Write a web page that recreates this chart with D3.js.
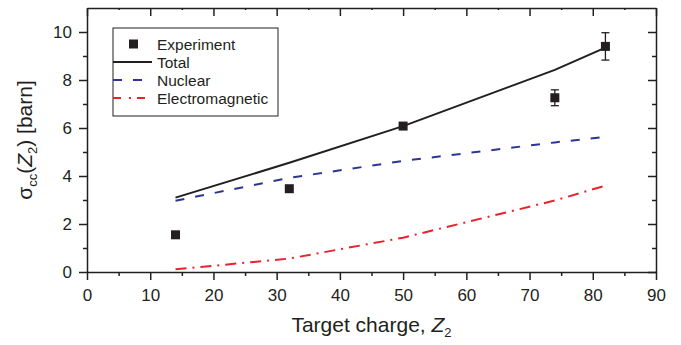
<!DOCTYPE html>
<html>
<head>
<meta charset="utf-8">
<script src="https://cdn.jsdelivr.net/npm/d3@7"></script>
<style>
  body { margin: 0; background: #fff; }
  svg { display: block; font-family: "Liberation Sans", Arial, sans-serif; }
</style>
</head>
<body>
<svg id="chart" width="681" height="345"></svg>
<script>
const width = 681;
const height = 345;
const ink = "#231f20";

// target charges Z2 and cross sections [barn]
const charges = [14, 32, 50, 74, 82];
const expValues = [1.55, 3.47, 6.08, 7.26, 9.4];
const expErrors = [0, 0, 0, 0.33, 0.57];
const totalValues = [3.1, 4.55, 6.08, 8.42, 9.35];
const nuclearValues = [2.97, 3.92, 4.63, 5.4, 5.63];
const emValues = [0.11, 0.56, 1.43, 2.98, 3.6];

const xTicks = [0, 10, 20, 30, 40, 50, 60, 70, 80, 90];
const xMinor = [5, 15, 25, 35, 45, 55, 65, 75, 85];
const yTicks = [0, 2, 4, 6, 8, 10];
const yMinor = [1, 3, 5, 7, 9];

const legendLabels = ["Experiment", "Total", "Nuclear", "Electromagnetic"];

const svg = d3.select("#chart");

const x = d3.scaleLinear().domain([0, 90]).range([87, 656]);
const y = d3.scaleLinear().domain([0, 11]).range([272, 8]);

function styleAxis(g) {
    g.selectAll("path, line").attr("stroke", ink).attr("stroke-width", 1.5);
    g.selectAll("text").attr("fill", ink).style("font-size", "17px");
}

// minor ticks first so the domain lines sit on top
svg.append("g").attr("transform", `translate(0,${y(0)})`)
    .call(d3.axisBottom(x).tickValues(xMinor).tickSize(4).tickFormat(""))
    .call(styleAxis).call(g => g.select(".domain").remove());
svg.append("g").attr("transform", `translate(${x(0)},0)`)
    .call(d3.axisLeft(y).tickValues(yMinor).tickSize(4).tickFormat(""))
    .call(styleAxis).call(g => g.select(".domain").remove());
svg.append("g").attr("transform", `translate(0,${y(11)})`)
    .call(d3.axisTop(x).tickValues(xMinor).tickSize(-2).tickFormat(""))
    .call(styleAxis).call(g => g.select(".domain").remove());
svg.append("g").attr("transform", `translate(${x(90)},0)`)
    .call(d3.axisRight(y).tickValues(yMinor).tickSize(-4).tickFormat(""))
    .call(styleAxis).call(g => g.select(".domain").remove());

// major axes
svg.append("g").attr("transform", `translate(0,${y(0)})`)
    .call(d3.axisBottom(x).tickValues(xTicks).tickSizeInner(8).tickSizeOuter(0).tickPadding(9))
    .call(styleAxis);
svg.append("g").attr("transform", `translate(${x(0)},0)`)
    .call(d3.axisLeft(y).tickValues(yTicks).tickSizeInner(8).tickSizeOuter(0).tickPadding(7))
    .call(styleAxis);
svg.append("g").attr("transform", `translate(0,${y(11)})`)
    .call(d3.axisTop(x).tickValues(xTicks).tickSizeInner(-8).tickSizeOuter(0).tickFormat(""))
    .call(styleAxis);
svg.append("g").attr("transform", `translate(${x(90)},0)`)
    .call(d3.axisRight(y).tickValues(yTicks).tickSizeInner(-8).tickSizeOuter(0).tickFormat(""))
    .call(styleAxis);

// curves
const line = d3.line()
    .x((d, i) => x(charges[i]))
    .y(d => y(d));

svg.append("path").datum(emValues)
    .attr("d", line).attr("fill", "none")
    .attr("stroke", "#e8222b").attr("stroke-width", 2)
    .attr("stroke-dasharray", "11,6,2,6");

svg.append("path").datum(nuclearValues)
    .attr("d", line).attr("fill", "none")
    .attr("stroke", "#2b3596").attr("stroke-width", 2)
    .attr("stroke-dasharray", "9,11");

svg.append("path").datum(totalValues)
    .attr("d", line).attr("fill", "none")
    .attr("stroke", ink).attr("stroke-width", 2);

// experiment points with error bars
const pts = charges.map((z, i) => ({ z: z, v: expValues[i], e: expErrors[i] }));

const bars = svg.append("g").selectAll("g")
    .data(pts.filter(d => d.e > 0))
    .enter().append("g")
    .attr("stroke", ink).attr("stroke-width", 1.3);
bars.append("line")
    .attr("x1", d => x(d.z)).attr("x2", d => x(d.z))
    .attr("y1", d => y(d.v - d.e)).attr("y2", d => y(d.v + d.e));
bars.append("line")
    .attr("x1", d => x(d.z) - 4).attr("x2", d => x(d.z) + 4)
    .attr("y1", d => y(d.v - d.e)).attr("y2", d => y(d.v - d.e));
bars.append("line")
    .attr("x1", d => x(d.z) - 4).attr("x2", d => x(d.z) + 4)
    .attr("y1", d => y(d.v + d.e)).attr("y2", d => y(d.v + d.e));

svg.append("g").selectAll("rect")
    .data(pts)
    .enter().append("rect")
    .attr("x", d => x(d.z) - 4.5).attr("y", d => y(d.v) - 4.5)
    .attr("width", 9).attr("height", 9)
    .attr("fill", ink);

// legend
const legend = svg.append("g");
legend.append("rect")
    .attr("x", 113).attr("y", 28).attr("width", 165).attr("height", 88)
    .attr("fill", "#fff").attr("stroke", ink).attr("stroke-width", 1);

const rowY = i => 44 + i * 18;
legend.append("rect")
    .attr("x", 129).attr("y", rowY(0) - 4.5).attr("width", 9).attr("height", 9)
    .attr("fill", ink);
legend.append("line")
    .attr("x1", 113).attr("x2", 152).attr("y1", rowY(1)).attr("y2", rowY(1))
    .attr("stroke", ink).attr("stroke-width", 2);
legend.append("line")
    .attr("x1", 113).attr("x2", 152).attr("y1", rowY(2)).attr("y2", rowY(2))
    .attr("stroke", "#2b3596").attr("stroke-width", 2).attr("stroke-dasharray", "9,11");
legend.append("line")
    .attr("x1", 113).attr("x2", 152).attr("y1", rowY(3)).attr("y2", rowY(3))
    .attr("stroke", "#e8222b").attr("stroke-width", 2).attr("stroke-dasharray", "8,8,2,6");

legend.selectAll("text.lab")
    .data(legendLabels)
    .enter().append("text")
    .attr("class", "lab")
    .attr("x", 157).attr("y", (d, i) => rowY(i) + 5.5)
    .attr("fill", ink).style("font-size", "15.5px")
    .text(d => d);

// axis titles
const xTitle = svg.append("text")
    .attr("x", (x(0) + x(90)) / 2).attr("y", 332)
    .attr("text-anchor", "middle").attr("fill", ink)
    .style("font-size", "21px");
xTitle.append("tspan").text("Target charge, ");
xTitle.append("tspan").style("font-style", "italic").text("Z");
xTitle.append("tspan").attr("dy", 5).style("font-size", "13px").text("2");

const yTitle = svg.append("text")
    .attr("transform", `translate(32,${(y(0) + y(11)) / 2}) rotate(-90)`)
    .attr("text-anchor", "middle").attr("fill", ink)
    .style("font-size", "21px");
yTitle.append("tspan").text("σ");
yTitle.append("tspan").attr("dy", 5).style("font-size", "13px").text("cc");
yTitle.append("tspan").attr("dy", -5).text("(");
yTitle.append("tspan").style("font-style", "italic").text("Z");
yTitle.append("tspan").attr("dy", 5).style("font-size", "13px").text("2");
yTitle.append("tspan").attr("dy", -5).text(") [barn]");
</script>
</body>
</html>
